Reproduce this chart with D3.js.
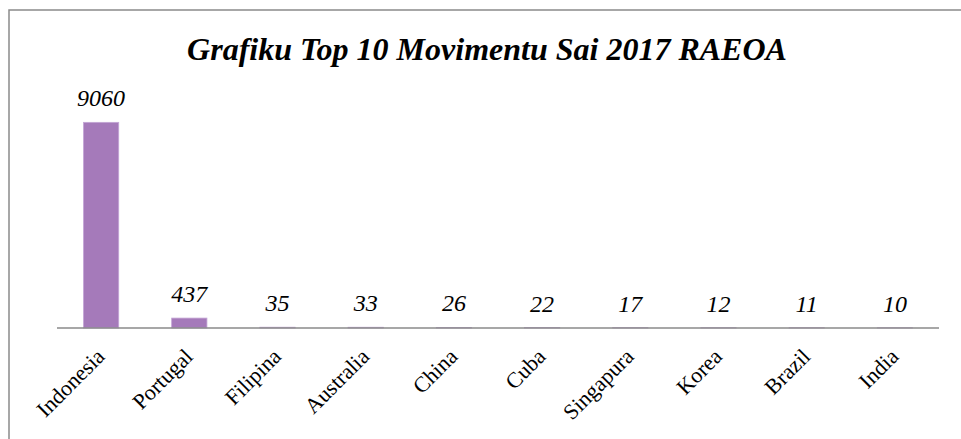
<!DOCTYPE html>
<html><head><meta charset="utf-8"><script src="https://cdn.jsdelivr.net/npm/d3@7"></script></head>
<body style="margin:0">
<svg id="movimentu" width="961" height="439"></svg>
<script>
// Top 10 countries, departures 2017
const countries = ["Indonesia", "Portugal", "Filipina", "Australia", "China", "Cuba", "Singapura", "Korea", "Brazil", "India"];
const departures = [9060, 437, 35, 33, 26, 22, 17, 12, 11, 10];
const title = "Grafiku Top 10 Movimentu Sai 2017 RAEOA";

const width = 961;
const height = 439;
const margin = { top: 101, right: 22, bottom: 111, left: 57 };
const serif = "\"Liberation Serif\"";

const svg = d3.select("#movimentu");

// outer frame (clipped on right and bottom like the source image)
svg.append("rect")
    .attr("x", 9)
    .attr("y", 10)
    .attr("width", 1000)
    .attr("height", 500)
    .attr("fill", "none")
    .attr("stroke", "#8a8a8a")
    .attr("stroke-width", 1.5);

const x = d3.scaleBand()
    .domain(countries)
    .range([margin.left, width - margin.right])
    .paddingInner(0.6)
    .paddingOuter(0.3);

const y = d3.scaleLinear()
    .domain([0, 10000])
    .range([height - margin.bottom, margin.top]);

const titleText = svg.append("text")
    .attr("x", 487)
    .attr("y", 60)
    .attr("text-anchor", "middle")
    .attr("font-family", "Liberation Serif")
    .style("font-family", serif)
    .style("font-size", "32px")
    .style("font-style", "italic")
    .style("font-weight", "bold")
    .text(title);
titleText.node().getComputedTextLength();

const data = countries.map((c, i) => ({ country: c, value: departures[i] }));

svg.selectAll("rect.bar")
    .data(data)
    .join("rect")
    .attr("class", "bar")
    .attr("x", d => x(d.country))
    .attr("y", d => y(d.value))
    .attr("width", x.bandwidth())
    .attr("height", d => y(0) - y(d.value))
    .attr("fill", "#a57aba")
    .attr("stroke", "#c4a6d6")
    .attr("stroke-width", 0.8);

// value labels
svg.selectAll("text.value")
    .data(data)
    .join("text")
    .attr("class", "value")
    .attr("x", d => x(d.country) + x.bandwidth() / 2)
    .attr("y", d => y(d.value) - 16)
    .attr("text-anchor", "middle")
    .attr("font-family", "Liberation Serif")
    .style("font-family", serif)
    .style("font-size", "24px")
    .style("font-style", "italic")
    .text(d => d.value)
    .each(function() { this.getComputedTextLength(); });

// x axis
const xAxis = d3.axisBottom(x).tickSize(0).tickPadding(0);
const axisG = svg.append("g")
    .attr("transform", `translate(0,${y(0)})`)
    .call(xAxis)
    .attr("font-family", "Liberation Serif")
    .attr("font-size", null);

axisG.select(".domain")
    .attr("d", `M${margin.left},0H${width - margin.right}`)
    .attr("stroke", "#8a8a8a")
    .attr("stroke-width", 1.5);

axisG.selectAll(".tick text")
    .style("font-family", serif)
    .style("font-size", "22px")
    .attr("fill", "#000")
    .attr("text-anchor", "end")
    .attr("dy", "0.7em")
    .attr("transform", "translate(-6,19) rotate(-45)")
    .each(function() { this.getComputedTextLength(); });
</script>
</body></html>
